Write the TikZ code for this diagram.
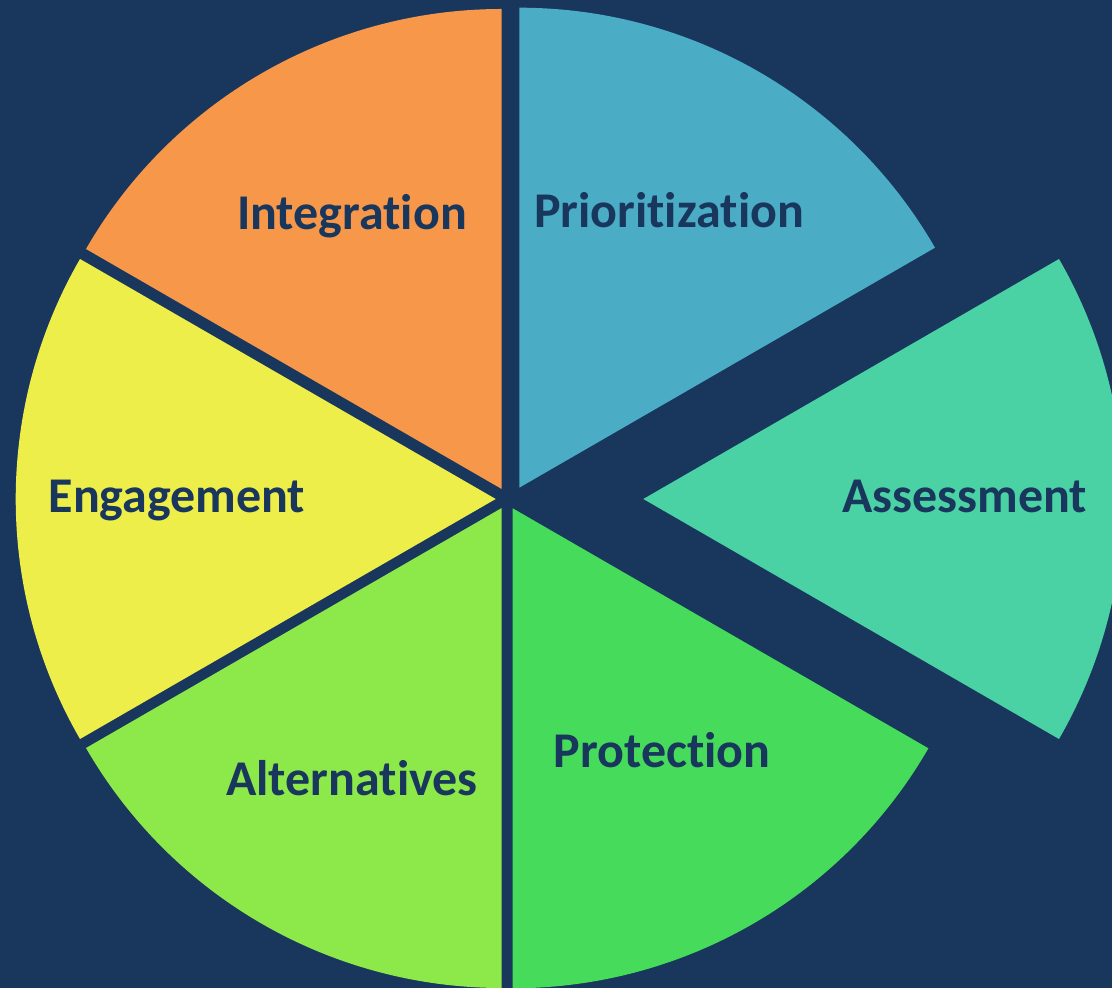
\documentclass[tikz,border=0pt]{standalone}
\usepackage{fontspec}
\newfontfamily\lblfamily{Carlito}[Ligatures={NoCommon}]
\definecolor{navy}{HTML}{19365D}
\definecolor{cPrio}{HTML}{4BACC6}
\definecolor{cAsse}{HTML}{4AD1A4}
\definecolor{cProt}{HTML}{46DB5A}
\definecolor{cAlte}{HTML}{8DE84A}
\definecolor{cEnga}{HTML}{EEEE4A}
\definecolor{cInte}{HTML}{F7974A}
\tikzset{
  lbl/.style={text=navy, anchor=base, inner sep=0pt, font=\lblfamily\bfseries\fontsize{50}{60}\selectfont},
}
\newcommand{\sectorfill}[5]{% color, x, y, a1, a2
  \fill[#1] (#2,#3) -- ++(#4:480) arc[start angle=#4, end angle=#5, radius=480] -- cycle;
}
\begin{document}
\begin{tikzpicture}[x=1pt,y=1pt]
\fill[navy] (0,0) rectangle (1112,988);
\useasboundingbox (0,0) rectangle (1112,988);
\begin{scope}
\clip (0,0) rectangle (1112,988);
\sectorfill{cPrio}{519.3}{500.3}{30}{90}
\sectorfill{cAsse}{643.3}{489}{-30}{30}
\sectorfill{cProt}{512.7}{479.7}{-90}{-30}
\sectorfill{cAlte}{501.7}{480}{-150}{-90}
\sectorfill{cEnga}{495.7}{489}{150}{210}
\sectorfill{cInte}{501.7}{499}{90}{150}
\end{scope}
\node[lbl] (prio) at (669,760.3) {Prioritization};
\node[lbl] (asse) at (964.5,475.3) {Assessment};
\node[lbl] (prot) at (662,220) {Protection};
\node[lbl] (alte) at (352,192) {Alternatives};
\node[lbl] (enga) at (177,475) {Engagement};
\node[lbl] (inte) at (352,758) {Integration};
\end{tikzpicture}
\end{document}
